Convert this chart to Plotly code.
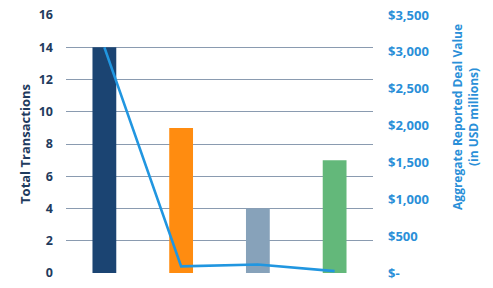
import plotly.graph_objects as go

categories = ["Category 1", "Category 2", "Category 3", "Category 4"]
transactions = [14, 9, 4, 7]
deal_value = [3060, 90, 115, 25]
bar_colors = ["#1B4472", "#FF8C10", "#87A2BA", "#63B87A"]

left_ticks = [0, 2, 4, 6, 8, 10, 12, 14, 16]
right_tickvals = [0, 500, 1000, 1500, 2000, 2500, 3000, 3500]
right_ticktext = ["$-", "$500", "$1,000", "$1,500", "$2,000", "$2,500", "$3,000", "$3,500"]

fig = go.Figure()
fig.add_trace(go.Bar(
    x=categories, y=transactions, marker=dict(color=bar_colors, line=dict(width=0)),
    width=0.31, yaxis="y", showlegend=False,
))
fig.add_trace(go.Scatter(
    x=categories, y=deal_value, mode="lines", yaxis="y2",
    line=dict(color="#2196E0", width=2.6), showlegend=False,
))

font_family = "Open Sans, Lato, sans-serif"
fig.update_layout(
    width=493, height=288,
    margin=dict(l=66, r=120, t=15, b=15),
    paper_bgcolor="white", plot_bgcolor="white",
    font=dict(family=font_family),
    xaxis=dict(showticklabels=False, showgrid=False, zeroline=False, showline=False, ticks="",
               automargin=False),
    yaxis=dict(
        range=[0, 16], tickvals=left_ticks, showgrid=True, gridcolor="#8A9BB0", gridwidth=1,
        zeroline=False, showline=False, automargin=False,
        tickfont=dict(size=12.5, color="#1F3B5E", family=font_family, weight="bold"),
        ticklabelstandoff=12,
        title=dict(text="Total Transactions", standoff=5,
                   font=dict(size=13, color="#1F3B5E", family=font_family, weight="bold")),
    ),
    yaxis2=dict(
        range=[0, 3500], tickvals=right_tickvals, ticktext=right_ticktext, overlaying="y",
        side="right", showgrid=False, zeroline=False, showline=False, automargin=False,
        tickfont=dict(size=13, color="#2A8FD8", family=font_family, weight="bold"),
        ticklabelstandoff=14,
    ),
    annotations=[dict(
        text="Aggregate Reported Deal Value<br>(in USD millions)",
        xref="paper", yref="paper", x=1.303, y=0.605, xanchor="center", yanchor="middle",
        textangle=-90, showarrow=False,
        font=dict(size=12, color="#2A8FD8", family=font_family, weight="bold"),
    )],
)

fig.write_html("out.html")
